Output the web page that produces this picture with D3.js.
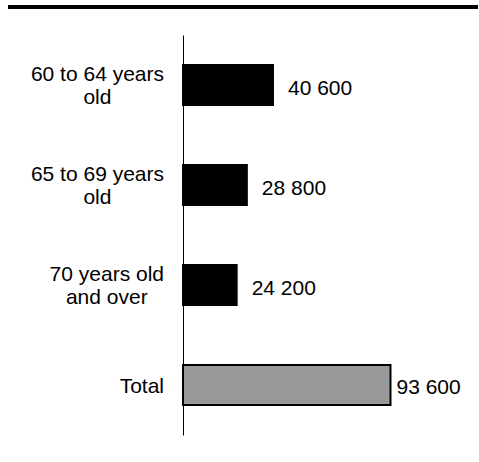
<!DOCTYPE html>
<html>
<head>
<meta charset="utf-8">
<script src="https://cdn.jsdelivr.net/npm/d3@7"></script>
<style>
  body { margin: 0; background: #fff; }
  svg { display: block; }
</style>
</head>
<body>
<div id="chart"></div>
<script>
// data
var categories = ["60 to 64 years old", "65 to 69 years old", "70 years old and over", "Total"];
var labelLines = [["60 to 64 years", "old"], ["65 to 69 years", "old"], ["70 years old", "and over"], ["Total"]];
var values = [40600, 28800, 24200, 93600];
var valueLabels = ["40 600", "28 800", "24 200", "93 600"];

var width = 479, height = 462;
var axisX = 183;
var fontSize = 21;
var lineHeight = 23.5;

var svg = d3.select("#chart").append("svg")
  .attr("width", width)
  .attr("height", height);

// thick rule at the top
svg.append("rect")
  .attr("x", 8).attr("y", 5)
  .attr("width", 470).attr("height", 4)
  .style("fill", "#000");

var y = d3.scaleBand()
  .domain(categories)
  .range([35, 435])
  .paddingInner(0.6)
  .paddingOuter(0.3);

var x = d3.scaleLinear()
  .domain([0, 93600])
  .range([axisX, axisX + 207.5]);

var g = svg.append("g");

// bars
g.selectAll("rect.bar")
  .data(values).enter()
  .append("rect")
  .attr("class", "bar")
  .attr("x", x(0))
  .attr("y", function (d, i) { return y(categories[i]); })
  .attr("width", function (d) { return x(d) - x(0); })
  .attr("height", y.bandwidth())
  .style("fill", function (d, i) { return i == 3 ? "#999999" : "#000"; })
  .style("stroke", "#000")
  .style("stroke-width", 2);

// vertical axis line
svg.append("g")
  .attr("transform", "translate(" + axisX + ",0)")
  .call(d3.axisLeft(y).tickSize(0).tickSizeOuter(0).tickFormat(""))
  .call(function (a) {
    a.select(".domain").attr("stroke", "#000").attr("stroke-width", 1);
  });

// category labels (centred lines, block right-aligned)
labelLines.forEach(function (lines, i) {
  var cy = y(categories[i]) + y.bandwidth() / 2;
  var t = svg.append("text")
    .style("font-family", "'Liberation Sans', Arial, sans-serif")
    .style("font-size", fontSize + "px")
    .style("fill", "#000")
    .attr("text-anchor", "middle");
  var base = cy + 7.5 - (lines.length - 1) * lineHeight / 2;
  lines.forEach(function (l, j) {
    t.append("tspan").attr("y", base + j * lineHeight).text(l);
  });
  // measure widest line and centre the block so its right edge sits at 164
  var w = 0;
  t.selectAll("tspan").each(function () {
    w = Math.max(w, this.getComputedTextLength());
  });
  t.selectAll("tspan").attr("x", 164 - w / 2);
});

// value labels
g.selectAll("text.val")
  .data(values).enter()
  .append("text")
  .attr("class", "val")
  .attr("x", function (d, i) { return x(d) + (i == 3 ? 6 : 15); })
  .attr("y", function (d, i) { return y(categories[i]) + y.bandwidth() / 2 + (i == 3 ? 9 : 10); })
  .text(function (d, i) { return valueLabels[i]; })
  .style("font-family", "'Liberation Sans', Arial, sans-serif")
  .style("font-size", fontSize + "px")
  .style("fill", "#000");
</script>
</body>
</html>
